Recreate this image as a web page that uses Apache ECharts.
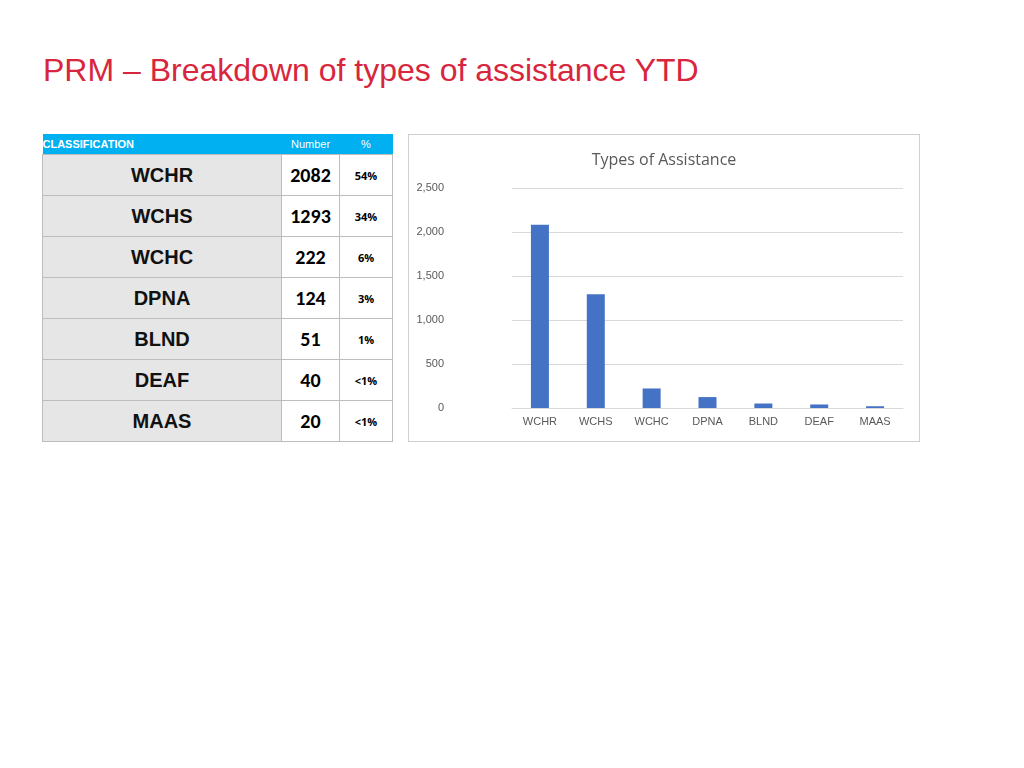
<!DOCTYPE html>
<html><head><meta charset="utf-8">
<script src="https://cdn.jsdelivr.net/npm/echarts@6/dist/echarts.min.js"></script>
<style>
body{margin:0;width:1024px;height:768px;background:#fff;position:relative;font-family:"Liberation Sans",Arial,sans-serif}
#title{position:absolute;left:43px;top:52px;font-size:32px;color:#D7263D}
#tbl{position:absolute;left:42px;top:134px;border-collapse:collapse}
#tbl td{border:1px solid #bdbdbd;height:40px;text-align:center;padding:0}
#tbl th{background:#00B0F0;color:#fff;font-weight:normal;height:20px;font-size:11px;padding:0}
#tbl td.c{background:#E6E6E6;width:238px;font-weight:bold;font-size:20px;color:#111}
#tbl td.n{width:57px;font-weight:bold;font-size:20px;font-family:Carlito,Calibri,"Open Sans",sans-serif}
#tbl td.p{width:52px;font-size:11px;font-weight:bold;font-family:"Open Sans",sans-serif}
#chart{position:absolute;left:408px;top:134px;width:512px;height:308px;border:1px solid #d0d0d0;box-sizing:border-box}
</style></head><body>
<div id="title">PRM – Breakdown of types of assistance YTD</div>
<table id="tbl"><thead><tr><th style="text-align:left;font-weight:bold">CLASSIFICATION</th><th>Number</th><th>%</th></tr></thead><tbody id="tb"></tbody></table>
<div id="chart"></div>
<script>
var categories=['WCHR','WCHS','WCHC','DPNA','BLND','DEAF','MAAS'];
var counts=[2082,1293,222,124,51,40,20];
var shares=['54%','34%','6%','3%','1%','<1%','<1%'];
var tb=document.getElementById('tb');
for(var i=0;i<categories.length;i++){
    var tr=document.createElement('tr');
    tr.innerHTML='<td class="c">'+categories[i]+'</td><td class="n">'+counts[i]+'</td><td class="p">'+shares[i].replace('<','&lt;')+'</td>';
    tb.appendChild(tr);
}
var chart=echarts.init(document.getElementById('chart'));
chart.setOption({
    title:{text:'Types of Assistance',left:'center',top:12,textStyle:{fontSize:16,fontWeight:'normal',color:'#595959',fontFamily:'Open Sans'}},
    grid:{left:103,right:16,top:53,bottom:33},
    xAxis:{type:'category',data:categories,axisTick:{show:false},axisLine:{lineStyle:{color:'#d9d9d9'}},axisLabel:{color:'#595959',fontSize:11}},
    yAxis:{type:'value',min:0,max:2500,interval:500,splitLine:{lineStyle:{color:'#d9d9d9'}},axisLabel:{color:'#595959',fontSize:11,margin:68}},
    series:[{type:'bar',data:counts,barWidth:18,itemStyle:{color:'#4472C4'},silent:true}]
});
</script>
</body></html>
